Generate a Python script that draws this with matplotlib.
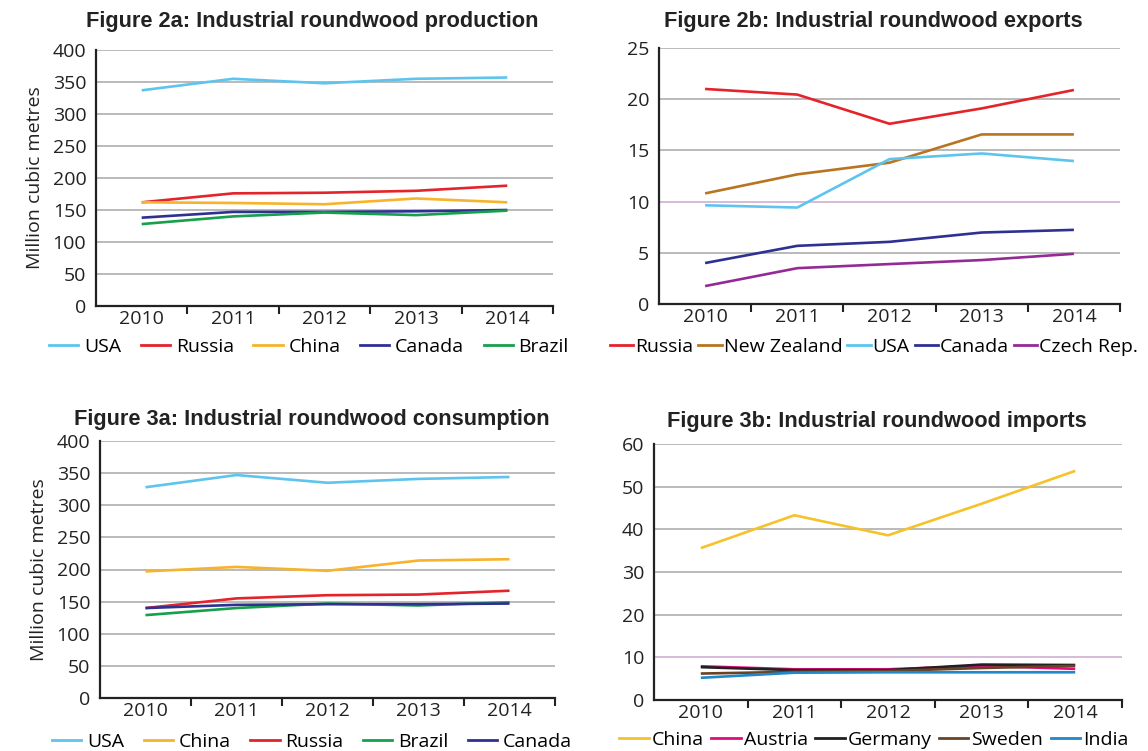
import matplotlib
matplotlib.use("Agg")
import matplotlib.pyplot as plt
from matplotlib.lines import Line2D

years = ["2010", "2011", "2012", "2013", "2014"]

# Figure 2a: production
prod_usa = [337, 355, 348, 355, 357]
prod_russia = [162, 176, 177, 180, 188]
prod_china = [162, 161, 159, 168, 162]
prod_canada = [138, 147, 147, 148, 150]
prod_brazil = [128, 140, 146, 142, 149]

# Figure 2b: exports
exp_russia = [21.0, 20.45, 17.6, 19.1, 20.9]
exp_nz = [10.8, 12.66, 13.8, 16.56, 16.56]
exp_usa = [9.64, 9.42, 14.15, 14.7, 13.96]
exp_canada = [4.0, 5.68, 6.07, 6.98, 7.24]
exp_czech = [1.75, 3.5, 3.9, 4.29, 4.9]

# Figure 3a: consumption
con_usa = [328, 347, 335, 341, 344]
con_china = [197, 204, 198, 214, 216]
con_russia = [140, 155, 160, 161, 167]
con_brazil = [129, 140, 147, 144, 149]
con_canada = [140, 145, 146, 146, 147]

# Figure 3b: imports
imp_china = [35.6, 43.3, 38.6, 46.0, 53.7]
imp_austria = [7.9, 7.2, 7.2, 8.0, 7.3]
imp_germany = [7.7, 7.0, 7.0, 8.3, 8.2]
imp_sweden = [6.2, 6.6, 6.8, 7.5, 8.0]
imp_india = [5.2, 6.4, 6.5, 6.5, 6.5]

C_USA = "#5ec4ee"
C_RUS = "#e4232b"
C_CHN = "#f7b32b"
C_CHN2 = "#f6c22a"
C_CAN = "#2e3192"
C_BRA = "#16a04b"
C_NZ = "#b87420"
C_CZ = "#952a96"
C_AUT = "#e5097f"
C_GER = "#231f20"
C_SWE = "#6a4327"
C_IND = "#1e88c8"

W, H = 1148, 751
fig = plt.figure(figsize=(W / 100, H / 100), dpi=100)
fig.patch.set_facecolor("white")

TICKFONT = "Open Sans"
TITLEFONT = "Liberation Sans"
FS = 14


def make_ax(l, r, t, b):
    return fig.add_axes([l / W, 1 - b / H, (r - l) / W, (b - t) / H])


def style(ax, ymax, ystep, title, tx, ty, ylabel=None, special=None):
    ax.set_xlim(-0.5, 4.5)
    ax.set_ylim(0, ymax)
    yt = list(range(0, ymax + 1, ystep))
    ax.set_yticks(yt)
    ax.set_yticklabels([str(v) for v in yt], fontfamily=TICKFONT, fontsize=FS, color="#222222")
    for v in yt[1:]:
        col = "#d3b5d6" if (special is not None and v == special) else "#b4b4b4"
        ax.axhline(v, color=col, lw=1.3, zorder=0)
    ax.set_xticks(range(5))
    ax.set_xticklabels(years, fontfamily=TICKFONT, fontsize=FS, color="#222222")
    ax.set_xticks([0.5, 1.5, 2.5, 3.5, 4.5], minor=True)
    ax.tick_params(axis="x", which="major", length=0, pad=3)
    ax.tick_params(axis="x", which="minor", length=6, width=1.5, direction="out", color="#222222")
    ax.tick_params(axis="y", length=0, pad=7)
    for s in ["top", "right"]:
        ax.spines[s].set_visible(False)
    for s in ["left", "bottom"]:
        ax.spines[s].set_color("#222222")
        ax.spines[s].set_linewidth(1.6)
    fig.text(tx / W, 1 - ty / H, title, fontfamily=TITLEFONT, fontweight="bold",
             fontsize=15.7, color="#222222", ha="center", va="center")
    if ylabel:
        ax.set_ylabel(ylabel, fontfamily=TICKFONT, fontsize=FS, labelpad=6, color="#222222")
    ax.set_facecolor("white")


def plot_series(ax, series):
    x = range(5)
    for vals, col, lab in series:
        ax.plot(x, vals, color=col, lw=1.9, label=lab, solid_capstyle="butt")


def legend(series, cx, cy, hl, htp, cs):
    handles = [Line2D([0], [0], color=c, lw=2) for _, c, _ in series]
    labels = [lab for _, _, lab in series]
    fig.legend(handles, labels, loc="center", bbox_to_anchor=(cx / W, 1 - cy / H),
               ncol=5, frameon=False, handlelength=hl, handletextpad=htp,
               columnspacing=cs, borderpad=0, borderaxespad=0,
               prop={"family": TICKFONT, "size": FS})


# 2a
ax1 = make_ax(96, 553, 50, 306)
s1 = [(prod_usa, C_USA, "USA"), (prod_russia, C_RUS, "Russia"), (prod_china, C_CHN, "China"),
      (prod_canada, C_CAN, "Canada"), (prod_brazil, C_BRA, "Brazil")]
plot_series(ax1, s1)
style(ax1, 400, 50, "Figure 2a: Industrial roundwood production", 312, 22, "Million cubic metres")
legend(s1, 309, 347, 1.5, 0.3, 1.0)

# 2b
ax2 = make_ax(659, 1120, 48, 304)
s2 = [(exp_russia, C_RUS, "Russia"), (exp_nz, C_NZ, "New Zealand"), (exp_usa, C_USA, "USA"),
      (exp_canada, C_CAN, "Canada"), (exp_czech, C_CZ, "Czech Rep.")]
plot_series(ax2, s2)
style(ax2, 25, 5, "Figure 2b: Industrial roundwood exports", 873, 22, special=10)
legend(s2, 874, 347, 1.2, 0.1, 0.25)

# 3a
ax3 = make_ax(100, 555, 441, 698)
s3 = [(con_usa, C_USA, "USA"), (con_china, C_CHN, "China"), (con_russia, C_RUS, "Russia"),
      (con_brazil, C_BRA, "Brazil"), (con_canada, C_CAN, "Canada")]
plot_series(ax3, s3)
style(ax3, 400, 50, "Figure 3a: Industrial roundwood consumption", 312, 419, "Million cubic metres")
legend(s3, 312, 742, 1.5, 0.3, 1.0)

# 3b
ax4 = make_ax(654, 1122, 444, 700)
s4 = [(imp_china, C_CHN2, "China"), (imp_austria, C_AUT, "Austria"), (imp_germany, C_GER, "Germany"),
      (imp_sweden, C_SWE, "Sweden"), (imp_india, C_IND, "India")]
plot_series(ax4, s4)
style(ax4, 60, 10, "Figure 3b: Industrial roundwood imports", 877, 421, special=10)
legend(s4, 874, 740, 1.5, 0.15, 0.4)

fig.savefig("out.png", dpi=100, facecolor="white")
